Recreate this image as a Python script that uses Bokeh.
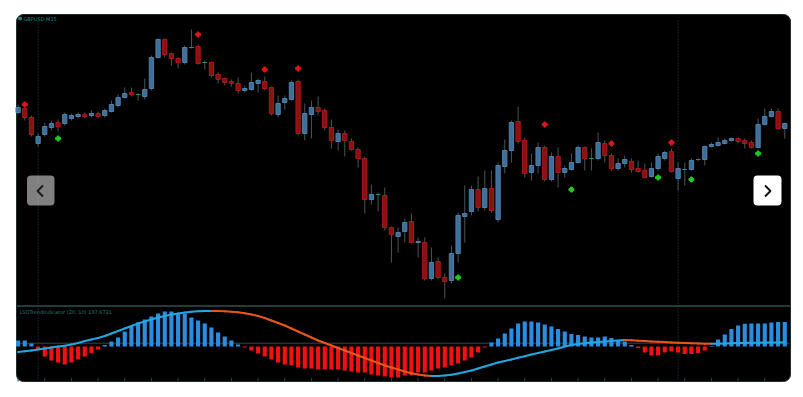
import numpy as np
from bokeh.plotting import figure
from bokeh.models import Range1d, ColumnDataSource
from bokeh.embed import file_html
from bokeh.resources import INLINE
from bokeh.core.properties import value

# ---------------- data ----------------
symbol_label = "GBPUSD,M15"
indicator_label = "LSOTrendIndicator (20, 10) 137.6721"

open_ = [1.2288, 1.2292, 1.2283, 1.2257, 1.2266, 1.2273, 1.2278, 1.2277, 1.2282, 1.2284,
         1.2286, 1.2285, 1.2287, 1.2285, 1.2289, 1.2295, 1.2303, 1.2308, 1.2306, 1.2304,
         1.2312, 1.2343, 1.2361, 1.2347, 1.2342, 1.2338, 1.2353, 1.2354, 1.2338, 1.2338,
         1.2326, 1.2322, 1.2319, 1.2317, 1.2310, 1.2311, 1.2317, 1.2319, 1.2313, 1.2286,
         1.2298, 1.2301, 1.2319, 1.2267, 1.2286, 1.2293, 1.2290, 1.2273, 1.2259, 1.2267,
         1.2259, 1.2251, 1.2242, 1.2201, 1.2206, 1.2205, 1.2173, 1.2164, 1.2169, 1.2179,
         1.2158, 1.2158, 1.2122, 1.2139, 1.2123, 1.2120, 1.2147, 1.2184, 1.2189, 1.2211,
         1.2193, 1.2212, 1.2181, 1.2234, 1.2250, 1.2279, 1.2260, 1.2228, 1.2235, 1.2253,
         1.2221, 1.2244, 1.2228, 1.2231, 1.2238, 1.2253, 1.2242, 1.2242, 1.2257, 1.2245,
         1.2232, 1.2237, 1.2239, 1.2232, 1.2230, 1.2224, 1.2232, 1.2242, 1.2249, 1.2222,
         1.2231, 1.2231, 1.2241, 1.2241, 1.2254, 1.2255, 1.2257, 1.2260, 1.2262, 1.2260,
         1.2258, 1.2253, 1.2276, 1.2284, 1.2289, 1.2272]
high = [1.2296, 1.2293, 1.2285, 1.2267, 1.2278, 1.2280, 1.2281, 1.2288, 1.2287, 1.2288,
        1.2288, 1.2290, 1.2289, 1.2292, 1.2300, 1.2306, 1.2313, 1.2313, 1.2307, 1.2322,
        1.2345, 1.2362, 1.2362, 1.2348, 1.2343, 1.2355, 1.2371, 1.2356, 1.2340, 1.2339,
        1.2328, 1.2323, 1.2321, 1.2323, 1.2315, 1.2328, 1.2322, 1.2324, 1.2314, 1.2305,
        1.2305, 1.2320, 1.2321, 1.2297, 1.2300, 1.2304, 1.2292, 1.2281, 1.2271, 1.2270,
        1.2262, 1.2253, 1.2244, 1.2216, 1.2208, 1.2213, 1.2174, 1.2173, 1.2182, 1.2187,
        1.2163, 1.2163, 1.2153, 1.2143, 1.2127, 1.2155, 1.2188, 1.2215, 1.2215, 1.2224,
        1.2230, 1.2230, 1.2238, 1.2261, 1.2280, 1.2294, 1.2263, 1.2247, 1.2258, 1.2255,
        1.2248, 1.2253, 1.2235, 1.2247, 1.2255, 1.2254, 1.2252, 1.2268, 1.2260, 1.2247,
        1.2242, 1.2245, 1.2242, 1.2240, 1.2237, 1.2238, 1.2247, 1.2250, 1.2252, 1.2238,
        1.2238, 1.2242, 1.2242, 1.2255, 1.2258, 1.2263, 1.2262, 1.2263, 1.2263, 1.2262,
        1.2260, 1.2282, 1.2292, 1.2292, 1.2292, 1.2278]
low = [1.2286, 1.2280, 1.2264, 1.2254, 1.2264, 1.2270, 1.2269, 1.2275, 1.2280, 1.2282,
       1.2282, 1.2283, 1.2282, 1.2283, 1.2288, 1.2293, 1.2302, 1.2304, 1.2300, 1.2301,
       1.2310, 1.2342, 1.2343, 1.2335, 1.2332, 1.2336, 1.2352, 1.2336, 1.2331, 1.2323,
       1.2317, 1.2315, 1.2314, 1.2307, 1.2308, 1.2310, 1.2308, 1.2310, 1.2285, 1.2283,
       1.2291, 1.2300, 1.2265, 1.2260, 1.2262, 1.2285, 1.2270, 1.2252, 1.2250, 1.2244,
       1.2250, 1.2233, 1.2187, 1.2196, 1.2189, 1.2170, 1.2138, 1.2148, 1.2158, 1.2157,
       1.2143, 1.2120, 1.2120, 1.2121, 1.2102, 1.2117, 1.2138, 1.2158, 1.2185, 1.2189,
       1.2190, 1.2188, 1.2178, 1.2227, 1.2238, 1.2257, 1.2223, 1.2220, 1.2227, 1.2219,
       1.2219, 1.2213, 1.2223, 1.2230, 1.2237, 1.2230, 1.2230, 1.2240, 1.2238, 1.2230,
       1.2230, 1.2233, 1.2228, 1.2228, 1.2222, 1.2223, 1.2230, 1.2240, 1.2228, 1.2210,
       1.2215, 1.2230, 1.2239, 1.2235, 1.2253, 1.2254, 1.2256, 1.2259, 1.2257, 1.2252,
       1.2252, 1.2252, 1.2275, 1.2283, 1.2271, 1.2262]
close = [1.2293, 1.2283, 1.2266, 1.2264, 1.2274, 1.2277, 1.2274, 1.2286, 1.2285, 1.2286,
         1.2284, 1.2287, 1.2284, 1.2290, 1.2296, 1.2303, 1.2307, 1.2306, 1.2306, 1.2311,
         1.2343, 1.2361, 1.2346, 1.2342, 1.2338, 1.2353, 1.2353, 1.2337, 1.2338, 1.2325,
         1.2321, 1.2318, 1.2317, 1.2310, 1.2312, 1.2318, 1.2320, 1.2312, 1.2287, 1.2297,
         1.2302, 1.2318, 1.2267, 1.2287, 1.2293, 1.2289, 1.2273, 1.2260, 1.2267, 1.2260,
         1.2251, 1.2242, 1.2201, 1.2206, 1.2206, 1.2173, 1.2166, 1.2168, 1.2178, 1.2158,
         1.2159, 1.2122, 1.2138, 1.2123, 1.2119, 1.2147, 1.2185, 1.2187, 1.2211, 1.2193,
         1.2212, 1.2190, 1.2235, 1.2250, 1.2278, 1.2259, 1.2227, 1.2235, 1.2253, 1.2221,
         1.2244, 1.2228, 1.2232, 1.2238, 1.2253, 1.2242, 1.2242, 1.2258, 1.2245, 1.2232,
         1.2237, 1.2241, 1.2231, 1.2229, 1.2223, 1.2232, 1.2244, 1.2248, 1.2229, 1.2232,
         1.2231, 1.2240, 1.2241, 1.2254, 1.2256, 1.2258, 1.2260, 1.2262, 1.2259, 1.2257,
         1.2253, 1.2276, 1.2284, 1.2289, 1.2272, 1.2277]

# indicator histogram and its smoothed trend line
hist = [6, 6, 3, -3.5, -10, -14, -16, -18, -16, -13,
        -10, -6.5, -3, 1.5, 5, 9, 15, 20, 24, 27,
        30, 33, 35, 35, 33, 33, 29, 26, 23, 19,
        14, 10, 6, 2, -1, -4, -7, -10, -13, -16,
        -18, -19, -21, -22, -22, -23, -23, -23, -23, -24,
        -25, -26, -26, -28, -29, -30, -31, -31, -29, -29,
        -26, -26, -24, -22, -21, -19, -17, -14, -11, -6,
        -1, 4, 8, 13, 18, 23, 25, 25, 24, 22,
        20, 17.5, 15, 12.5, 11.5, 10, 9, 9, 10, 8.5,
        6.5, 5, 1.5, -1.5, -6, -9, -8.5, -6, -5, -6,
        -7.5, -7.5, -6.5, -4, 0.5, 7, 12, 17.5, 21, 22.7,
        23, 23, 23, 24, 24.5, 24.5]
trend = [-5.5, -4.8, -4, -3, -2, -1, 0, 0.8, 2, 3.5,
         5.5, 7, 8.5, 10.5, 13, 15.5, 18, 20.5, 23, 25,
         27, 29, 30.5, 32, 33, 34, 34.7, 35.2, 35.5, 35.6,
         35.5, 35.2, 34.8, 34.2, 33.2, 32, 30.5, 28.5, 26, 23.5,
         21, 18, 15, 12, 9, 6, 3.5, 1, -1.5, -4,
         -6.5, -9, -11.5, -14, -16.5, -19, -21, -23, -25, -26.8,
         -28, -29, -29.5, -29.4, -29, -28.2, -27, -25.5, -24, -22,
         -20, -18, -16, -14.5, -13, -11.3, -9.7, -8, -6.5, -5,
         -3.5, -2, 0, 1.5, 2.5, 3.2, 4, 4.6, 5.1, 5.6,
         6, 6.5, 6.2, 5.8, 5.4, 5, 4.7, 4.4, 4.1, 3.8,
         3.5, 3.2, 3, 2.8, 2.7, 2.8, 3, 3.2, 3.4, 3.6,
         3.7, 3.8, 3.9, 4, 4.1, 4.2]
level = 3.3

sell_idx = [1, 27, 37, 42, 79, 89, 98]
sell_price = [1.2296, 1.2366, 1.2331, 1.2332, 1.2276, 1.2257, 1.2258]
buy_idx = [6, 66, 83, 96, 101, 111]
buy_price = [1.2262, 1.2123, 1.2211, 1.2223, 1.2221, 1.2247]

grid_idx = [3, 99]
tick_idx = list(range(0, 116, 4))

# ---------------- figure ----------------
n = len(open_)
idx = np.arange(n)
o = np.array(open_); c = np.array(close)

W, H = 795, 389
p = figure(width=W, height=H, title=None,
           x_range=Range1d(-2.64, 116.61), y_range=Range1d(1.2011, 1.2400),
           output_backend="svg", toolbar_location=None,
           x_axis_type=None, y_axis_type=None, min_border=0,
           outline_line_color=None, background_fill_color="white",
           border_fill_color="white")
p.extra_x_ranges = {"px": Range1d(0, W)}
p.extra_y_ranges = {"px": Range1d(H, 0), "osc": Range1d(-43, 346)}

# black rounded chart panel
p.quad(left=[16], right=[790], top=[14], bottom=[381], border_radius=7,
       fill_color="black", line_color="#1d2e2e", line_width=1,
       x_range_name="px", y_range_name="px")
# separator between price and indicator windows
p.segment(x0=[16], x1=[790], y0=[305.5], y1=[305.5], line_color="#233c3b",
          line_width=2, x_range_name="px", y_range_name="px")
# vertical dotted grid lines
p.segment(x0=grid_idx, x1=grid_idx, y0=[20] * len(grid_idx), y1=[380] * len(grid_idx),
          line_color="#1d4646", line_width=1, line_dash="1 2", y_range_name="px")
# bottom tick marks
p.segment(x0=tick_idx, x1=tick_idx, y0=[377.5] * len(tick_idx), y1=[381] * len(tick_idx),
          line_color="#294545", line_width=1, y_range_name="px")
# indicator level line
p.segment(x0=[16], x1=[789], y0=[level], y1=[level], line_color="#3a4545",
          line_width=1, x_range_name="px", y_range_name="osc")

# histogram
hcol = ["#2b8de2" if v >= 0 else "#f21010" for v in hist]
p.vbar(x=idx, width=0.62, top=hist, bottom=0, fill_color=hcol, line_color=None,
       y_range_name="osc")

# trend line coloured by direction
tr = np.array(trend)
seg_col = ["#1fa8e4" if tr[k + 1] >= tr[k] else "#ea561e" for k in range(n - 1)]
p.segment(x0=idx[:-1], y0=tr[:-1], x1=idx[1:], y1=tr[1:], line_color=seg_col,
          line_width=2, line_cap="round", y_range_name="osc")

# candles
up = c > o
down = c < o
body_fill = np.where(up, "#3f6f99", np.where(down, "#8a1111", "#2f7f7f"))
body_line = np.where(up, "#4d80ab", np.where(down, "#a81a1a", "#2f8a8a"))
src = ColumnDataSource(dict(x=idx, o=o, h=high, l=low, c=c,
                            top=np.maximum(o, c), bot=np.minimum(o, c),
                            fill=body_fill, line=body_line))
p.segment(x0="x", y0="h", x1="x", y1="l", source=src, line_color="#475757", line_width=1)
p.vbar(x="x", width=0.64, top="top", bottom="bot", source=src,
       fill_color="fill", line_color="line", line_width=1)

# signal markers
p.scatter(x=sell_idx, y=sell_price, marker="plus", size=5, color="#e01818")
p.scatter(x=buy_idx, y=buy_price, marker="plus", size=5, color="#18d018")

# window labels
p.scatter(x=[19.5], y=[18], marker="square", size=2.5, color="#2b8585",
          x_range_name="px", y_range_name="px")
p.text(x=[23], y=[18], text=[symbol_label], text_font=value("DejaVu Sans"),
       text_font_size="5px", text_color="#2b8585", text_baseline="middle",
       x_range_name="px", y_range_name="px")
p.text(x=[19], y=[311], text=[indicator_label], text_font=value("DejaVu Sans"),
       text_font_size="5px", text_color="#2b7575", text_baseline="middle",
       x_range_name="px", y_range_name="px")

# carousel buttons
p.quad(left=[26.5], right=[54], top=[175], bottom=[205], border_radius=4,
       fill_color="white", fill_alpha=0.5, line_color=None,
       x_range_name="px", y_range_name="px")
p.line(x=[42.5, 37, 42.5], y=[185, 190.5, 196], line_color="#1a1a1a", line_width=2,
       x_range_name="px", y_range_name="px")
p.quad(left=[753], right=[781], top=[175], bottom=[205], border_radius=4,
       fill_color="white", line_color=None,
       x_range_name="px", y_range_name="px")
p.line(x=[764.5, 770, 764.5], y=[185, 190.5, 196], line_color="#111111", line_width=2,
       x_range_name="px", y_range_name="px")

open("out.html", "w").write(file_html(p, INLINE))
